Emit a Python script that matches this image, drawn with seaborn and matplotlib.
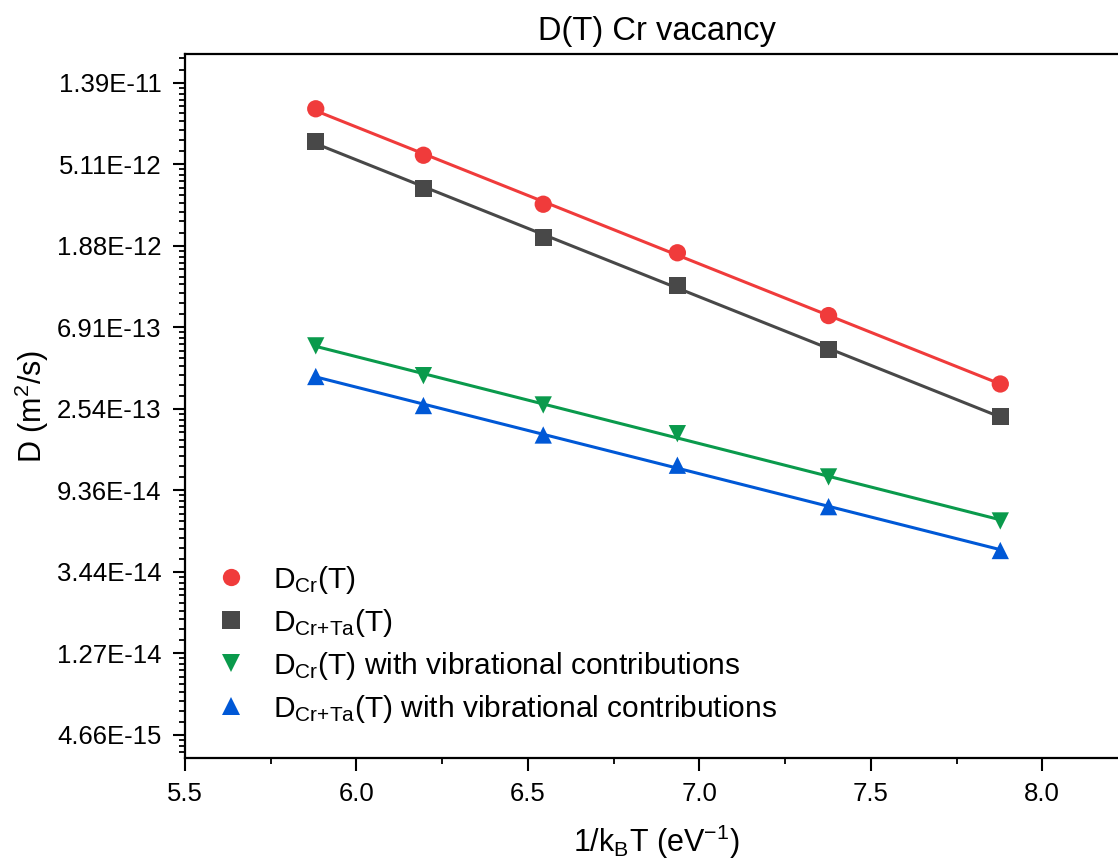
import matplotlib
matplotlib.use('Agg')
import numpy as np
import pandas as pd
import matplotlib.pyplot as plt
from matplotlib.ticker import FixedLocator, FixedFormatter, NullFormatter
import seaborn as sns

# ---------------------------
# Data
# ---------------------------
inv_kT = [5.8813, 6.1953, 6.5447, 6.9359, 7.3768, 7.8776]   # 1/kBT (eV^-1)

D_cr = [1.006e-11, 5.69e-12, 3.12e-12, 1.72e-12, 7.96e-13, 3.44e-13]
D_crta = [6.76e-12, 3.80e-12, 2.07e-12, 1.15e-12, 5.27e-13, 2.31e-13]
D_cr_vib = [5.49e-13, 3.81e-13, 2.66e-13, 1.87e-13, 1.10e-13, 6.41e-14]
D_crta_vib = [3.77e-13, 2.64e-13, 1.84e-13, 1.27e-13, 7.64e-14, 4.46e-14]

series_labels = [
    r'D$_{\mathrm{Cr}}$(T)',
    r'D$_{\mathrm{Cr{+}Ta}}$(T)',
    r'D$_{\mathrm{Cr}}$(T) with vibrational contributions',
    r'D$_{\mathrm{Cr{+}Ta}}$(T) with vibrational contributions',
]
series_values = [D_cr, D_crta, D_cr_vib, D_crta_vib]
colors = ['#F03B3B', '#484848', '#0A9A4C', '#0058D6']
markers = ['o', 's', 'v', '^']

# natural-log axis: ticks at e^-25 ... e^-33
ytick_exp = [-25, -26, -27, -28, -29, -30, -31, -32, -33]
ytick_labels = ['1.39E-11', '5.11E-12', '1.88E-12', '6.91E-13', '2.54E-13',
                '9.36E-14', '3.44E-14', '1.27E-14', '4.66E-15']

rows = []
for lab, vals in zip(series_labels, series_values):
    for x, y in zip(inv_kT, vals):
        rows.append({"x": x, "D": y, "Series": lab})
df = pd.DataFrame(rows)

# ---------------------------
# Style
# ---------------------------
sns.set_theme(style="ticks")
plt.rcParams['font.family'] = ['Liberation Sans', 'DejaVu Sans']
plt.rcParams['mathtext.fontset'] = 'custom'
plt.rcParams['mathtext.rm'] = 'Liberation Sans'
plt.rcParams['mathtext.it'] = 'Liberation Sans:italic'
plt.rcParams['mathtext.bf'] = 'Liberation Sans:bold'
for key in ['text.color', 'axes.labelcolor', 'xtick.color', 'ytick.color',
            'axes.edgecolor']:
    plt.rcParams[key] = 'black'

fig = plt.figure(figsize=(11.18, 8.63), dpi=100)
ax = fig.add_axes([185 / 1118, 105 / 863, 943 / 1118, 704 / 863])

# fitted Arrhenius lines (ln D linear in 1/kBT)
for lab, vals, c in zip(series_labels, series_values, colors):
    coef = np.polyfit(inv_kT, np.log(vals), 1)
    xs = np.array([inv_kT[0], inv_kT[-1]])
    ax.plot(xs, np.exp(np.polyval(coef, xs)), color=c, lw=2.2, zorder=2)

sns.scatterplot(
    data=df, x="x", y="D",
    hue="Series", style="Series",
    palette=dict(zip(series_labels, colors)),
    markers=dict(zip(series_labels, markers)),
    s=155, edgecolor='none', linewidth=0, zorder=3, ax=ax
)

ax.set_yscale('log', base=np.e)
ax.set_xlim(5.5, 8.25)
ax.set_ylim(3.5e-15, 1.97e-11)

ax.yaxis.set_major_locator(FixedLocator([np.exp(e) for e in ytick_exp]))
ax.yaxis.set_major_formatter(FixedFormatter(ytick_labels))
minor = []
for e in range(-34, -24):
    for k in range(1, 10):
        minor.append(np.exp(e) * (1 + k * (np.e - 1) / 10))
ax.yaxis.set_minor_locator(FixedLocator(minor))
ax.yaxis.set_minor_formatter(NullFormatter())

ax.set_xticks([5.5, 6.0, 6.5, 7.0, 7.5, 8.0])
ax.set_xticks(np.arange(5.75, 8.3, 0.5), minor=True)

ax.tick_params(axis='both', which='major', direction='out', length=9,
               width=1.5, labelsize=18.5, color='black')
ax.tick_params(axis='y', which='major', pad=8)
ax.tick_params(axis='x', which='major', pad=8)
ax.tick_params(axis='both', which='minor', direction='out', length=4.5,
               width=1.3, color='black')
for side in ['left', 'bottom', 'top', 'right']:
    ax.spines[side].set_linewidth(1.6)

ax.set_xlabel(r'1/k$_{\mathrm{B}}$T (eV$^{-1}$)', fontsize=22, labelpad=12)
ax.set_ylabel(r'D (m$^{2}$/s)', fontsize=22, labelpad=4)
ax.set_title('D(T) Cr vacancy', fontsize=23.5, pad=10)

handles, labels = ax.get_legend_handles_labels()
ax.legend(handles, labels, loc='upper left', bbox_to_anchor=(0.033, 0.276),
          frameon=False, fontsize=21.5, borderpad=0, borderaxespad=0,
          handlelength=1.0, handletextpad=0.9, labelspacing=0.37)

fig.savefig('out.png', dpi=100)
plt.close(fig)
